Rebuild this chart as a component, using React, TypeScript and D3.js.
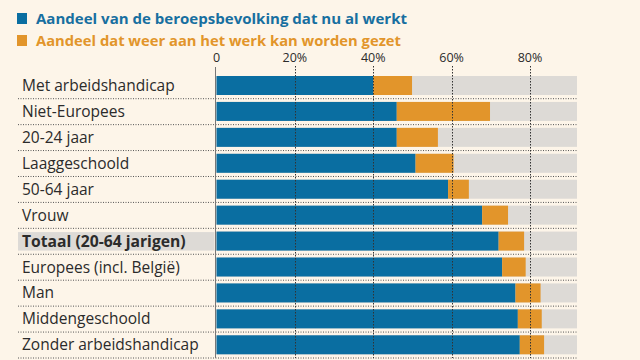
import React from "react";
import * as d3 from "d3";

const categories = [
  "Met arbeidshandicap",
  "Niet-Europees",
  "20-24 jaar",
  "Laaggeschoold",
  "50-64 jaar",
  "Vrouw",
  "Totaal (20-64 jarigen)",
  "Europees (incl. België)",
  "Man",
  "Middengeschoold",
  "Zonder arbeidshandicap",
];
const working = [40.0, 46.0, 46.0, 50.8, 59.1, 67.8, 72.0, 72.9, 76.3, 76.9, 77.4];
const extra = [9.9, 23.8, 10.5, 9.7, 5.3, 6.6, 6.5, 6.0, 6.4, 6.1, 6.2];
const ticks = [0, 20, 40, 60, 80];
const highlight = "Totaal (20-64 jarigen)";
const legendLabels = [
  "Aandeel van de beroepsbevolking dat nu al werkt",
  "Aandeel dat weer aan het werk kan worden gezet",
];

const W = 640;
const H = 360;
const BG = "#fdf5e9";
const BLUE = "#0a6ea1";
const ORANGE = "#e2952b";
const GRAY = "#dddad6";
const TEXT = "#2b2b2b";
const FONT = "'Open Sans', 'DejaVu Sans', sans-serif";

export default function App() {
  const x = d3.scaleLinear().domain([0, 92]).range([216.5, 577]);
  const step = 25.93;
  const y = d3
    .scaleBand<string>()
    .domain(categories)
    .range([73, 73 + step * categories.length])
    .paddingInner(0)
    .paddingOuter(0);
  const barH = 19;
  const barOff = 3;
  const legendLen = [371, 365];

  return (
    <svg
      width={W}
      height={H}
      style={{ position: "absolute", left: 0, top: 0, display: "block", background: BG }}
    >
      <rect x={0} y={0} width={W} height={H} fill={BG} />
      {legendLabels.map((l, i) => (
        <g key={l}>
          <rect x={17} y={13 + i * 22} width={10} height={11} fill={i === 0 ? BLUE : ORANGE} />
          <text
            x={36}
            y={24 + i * 22}
            fontFamily={FONT}
            fontWeight={700}
            fontSize={15}
            textLength={legendLen[i]}
            lengthAdjust="spacingAndGlyphs"
            fill={i === 0 ? "#176fa0" : ORANGE}
          >
            {l}
          </text>
        </g>
      ))}
      {ticks.map((t) => (
        <text
          key={t}
          x={x(t)}
          y={62}
          textAnchor="middle"
          fontFamily={FONT}
          fontSize={12.5}
          fill={TEXT}
        >
          {t === 0 ? "0" : `${t}%`}
        </text>
      ))}
      {categories.map((c, i) => {
        const top = (y(c) as number) + barOff;
        const isH = c === highlight;
        return (
          <g key={c}>
            {isH && <rect x={18} y={top + 0.5} width={196.5} height={18.5} fill={GRAY} />}
            <text
              x={22}
              y={top + barH / 2 + 5.5}
              fontFamily={FONT}
              fontSize={isH ? 15.7 : 15.5}
              fontWeight={isH ? 700 : 400}
              fill={TEXT}
            >
              {c}
            </text>
            <rect x={x(0)} y={top} width={x(92) - x(0)} height={barH} fill={GRAY} />
            <rect x={x(0)} y={top} width={x(working[i]) - x(0)} height={barH} fill={BLUE} />
            <rect
              x={x(working[i])}
              y={top}
              width={x(working[i] + extra[i]) - x(working[i])}
              height={barH}
              fill={ORANGE}
            />
            <line
              x1={18}
              x2={577}
              y1={top + barH + 3.7}
              y2={top + barH + 3.7}
              stroke="#555"
              strokeWidth={1}
              strokeDasharray="1,1.5"
            />
          </g>
        );
      })}
      {ticks.slice(1).map((t) => (
        <line
          key={t}
          x1={Math.round(x(t)) + 0.5}
          x2={Math.round(x(t)) + 0.5}
          y1={66}
          y2={358}
          stroke="#333"
          strokeWidth={1}
          strokeDasharray="1.5,1.5"
        />
      ))}
      <line x1={215.5} x2={215.5} y1={67} y2={358} stroke="#777" strokeWidth={1} />
    </svg>
  );
}
